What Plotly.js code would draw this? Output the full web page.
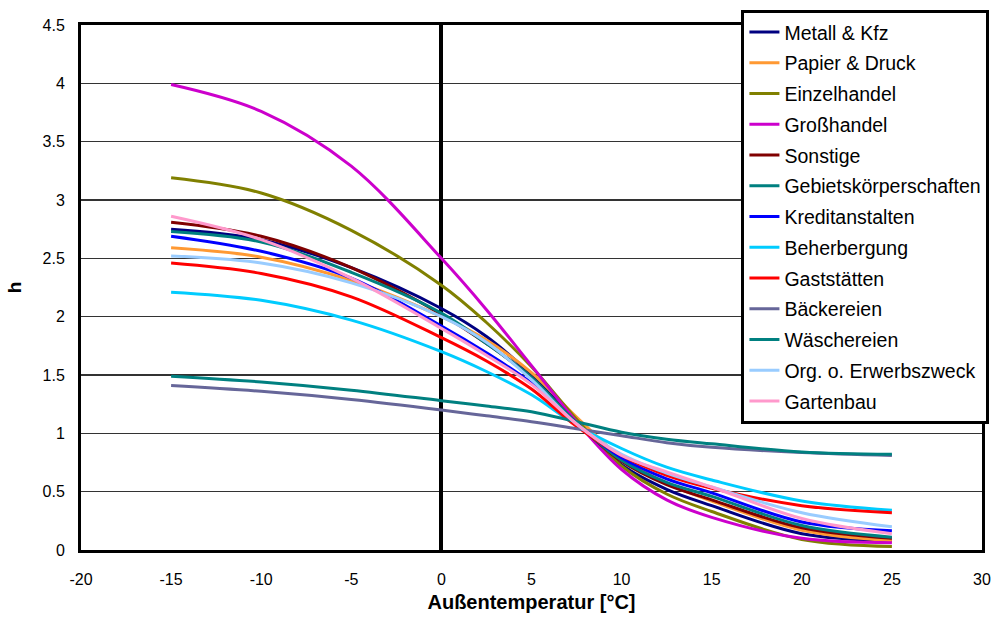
<!DOCTYPE html>
<html><head><meta charset="utf-8">
<script src="https://cdn.plot.ly/plotly-3.0.1.min.js"></script>
<style>body{margin:0;background:#fff}#c{width:995px;height:626px}</style>
</head><body><div id="c"></div>
<script>
const temps = [-15, -10, -5, 0, 2.5, 5, 7.5, 10, 12.5, 15, 20, 25];
const names = ["Metall & Kfz","Papier & Druck","Einzelhandel","Großhandel","Sonstige","Gebietskörperschaften","Kreditanstalten","Beherbergung","Gaststätten","Bäckereien","Wäschereien","Org. o. Erwerbszweck","Gartenbau"];
const colors = ["#000080","#FF9933","#808000","#CC00CC","#800000","#008080","#0000FF","#00CCFF","#FF0000","#666699","#008080","#99CCFF","#FF99CC"];
const metall   = [2.75, 2.66, 2.42, 2.07, 1.83, 1.50, 1.10, 0.73, 0.52, 0.38, 0.14, 0.08];
const papier   = [2.59, 2.51, 2.31, 2.00, 1.80, 1.52, 1.14, 0.79, 0.57, 0.42, 0.17, 0.08];
const einzel   = [3.19, 3.06, 2.74, 2.27, 1.95, 1.57, 1.12, 0.72, 0.48, 0.33, 0.09, 0.03];
const gross    = [3.99, 3.76, 3.29, 2.50, 2.06, 1.58, 1.10, 0.69, 0.43, 0.28, 0.10, 0.063];
const sonstige = [2.81, 2.69, 2.42, 2.02, 1.77, 1.48, 1.09, 0.76, 0.56, 0.43, 0.19, 0.10];
const gebiets  = [2.73, 2.64, 2.38, 2.03, 1.77, 1.48, 1.09, 0.77, 0.58, 0.46, 0.21, 0.11];
const kredit   = [2.69, 2.56, 2.33, 1.92, 1.69, 1.43, 1.08, 0.79, 0.61, 0.49, 0.24, 0.165];
const beherb   = [2.21, 2.14, 1.97, 1.70, 1.53, 1.33, 1.07, 0.87, 0.71, 0.60, 0.42, 0.34];
const gastst   = [2.46, 2.37, 2.17, 1.82, 1.62, 1.38, 1.06, 0.81, 0.64, 0.53, 0.38, 0.32];
const baeck    = [1.41, 1.36, 1.29, 1.20, 1.15, 1.10, 1.04, 0.98, 0.92, 0.88, 0.835, 0.81];
const waesch   = [1.49, 1.44, 1.37, 1.28, 1.235, 1.185, 1.10, 1.01, 0.95, 0.91, 0.84, 0.82];
const org      = [2.52, 2.46, 2.29, 2.00, 1.78, 1.46, 1.08, 0.82, 0.66, 0.54, 0.32, 0.20];
const garten   = [2.86, 2.66, 2.33, 1.90, 1.67, 1.42, 1.08, 0.81, 0.67, 0.54, 0.27, 0.14];
const series = [metall, papier, einzel, gross, sonstige, gebiets, kredit, beherb, gastst, baeck, waesch, org, garten];
const xTicks = [-20,-15,-10,-5,0,5,10,15,20,25,30];
const yTicks = [0,0.5,1,1.5,2,2.5,3,3.5,4,4.5];

const traces = series.map((ys, i) => ({
  x: temps, y: ys, name: names[i], type: 'scatter', mode: 'lines',
  line: {color: colors[i], width: 3, shape: 'spline', smoothing: 1},
  legendgroup: 'g' + i
}));

const tickFont = {family: 'Liberation Sans Narrow, Liberation Sans, Arial, sans-serif', size: 16, color: '#000'};
const layout = {
  width: 995, height: 626,
  margin: {l: 81, r: 13, t: 25, b: 76, autoexpand: false},
  paper_bgcolor: '#fff', plot_bgcolor: '#fff',
  showlegend: true,
  legend: {
    x: 0.733, y: 1.029, xanchor: 'left', yanchor: 'top',
    bgcolor: '#fff', bordercolor: '#000', borderwidth: 3,
    font: {family: 'Liberation Sans, Arial, sans-serif', size: 19.5, color: '#000'},
    traceorder: 'grouped', tracegroupgap: 2.4, itemwidth: 30,
    maxheight: 1
  },
  xaxis: {
    range: [-20, 30], tickvals: xTicks, ticktext: xTicks.map(String),
    showgrid: false, zeroline: true, zerolinecolor: '#000', zerolinewidth: 4,
    showline: true, linecolor: '#000', linewidth: 3, mirror: true,
    ticks: '', ticklabelstandoff: 13, tickfont: tickFont,
    title: {text: 'Außentemperatur [°C]', font: {family: 'Liberation Sans, Arial, sans-serif', size: 20, color: '#000', weight: 'bold'}, standoff: 8}
  },
  yaxis: {
    range: [0, 4.5], tickvals: yTicks, ticktext: yTicks.map(String),
    showgrid: true, gridcolor: '#333', gridwidth: 1.5, zeroline: false,
    showline: true, linecolor: '#000', linewidth: 3, mirror: true,
    ticks: '', ticklabelstandoff: 10, tickfont: tickFont,
    title: {text: 'h', font: {family: 'Liberation Sans, Arial, sans-serif', size: 19, color: '#000', weight: 'bold'}, standoff: 16}
  }
};
Plotly.newPlot('c', traces, layout, {displayModeBar: false, staticPlot: true});
</script></body></html>
